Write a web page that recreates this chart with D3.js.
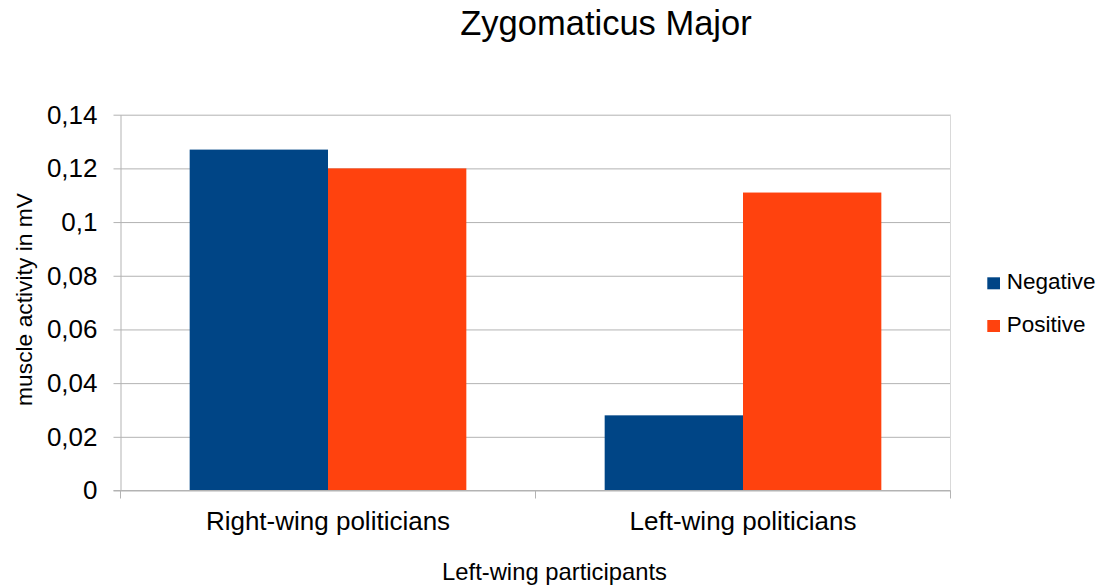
<!DOCTYPE html>
<html>
<head>
<meta charset="utf-8">
<script src="https://cdn.jsdelivr.net/npm/d3@7"></script>
<style>
  html, body { margin: 0; padding: 0; background: #fff; }
  svg { display: block; font-family: "Liberation Sans", Arial, sans-serif; }
</style>
</head>
<body>
<svg id="chart" width="1110" height="586"></svg>
<script>
const categories = ["Right-wing politicians", "Left-wing politicians"];
const seriesNames = ["Negative", "Positive"];
const negativeValues = [0.127, 0.028];
const positiveValues = [0.120, 0.111];
const yTickValues = [0, 0.02, 0.04, 0.06, 0.08, 0.1, 0.12, 0.14];
const yTickLabels = ["0", "0,02", "0,04", "0,06", "0,08", "0,1", "0,12", "0,14"];
const colors = ["#004586", "#ff420e"];
const titleText = "Zygomaticus Major";
const xTitleText = "Left-wing participants";
const yTitleText = "muscle activity in mV";

const svg = d3.select("#chart");
const plot = { left: 120.5, right: 950.5, top: 114.7, bottom: 490.5 };
const grid = "#b3b3b3";

const x0 = d3.scaleBand().domain(categories).range([plot.left, plot.right]).paddingInner(0).paddingOuter(0);
const x1 = d3.scaleBand().domain(seriesNames).range([0, x0.bandwidth()]).paddingInner(0).paddingOuter(0.5);
const y = d3.scaleLinear().domain([0, 0.14]).range([plot.bottom, plot.top]);

const seriesData = [negativeValues, positiveValues];

// Y axis with gridlines
const yAxis = d3.axisLeft(y)
  .tickValues(yTickValues)
  .tickFormat((d, i) => yTickLabels[i])
  .tickSizeInner(-(plot.right - plot.left))
  .tickSizeOuter(0)
  .tickPadding(23);
const gy = svg.append("g").attr("transform", `translate(${plot.left},0)`).call(yAxis);
gy.select(".domain").attr("stroke", grid);
gy.selectAll(".tick line").attr("stroke", grid).attr("x1", -7);
gy.selectAll(".tick text").attr("fill", "#000").style("font-size", "26px")
  .attr("font-family", "Liberation Sans, Arial, sans-serif");

// right border
svg.append("line").attr("x1", plot.right).attr("x2", plot.right)
  .attr("y1", plot.top).attr("y2", plot.bottom).attr("stroke", "#d9d9d9");

// Bars
const groups = svg.append("g").selectAll("g").data(categories).join("g")
  .attr("transform", d => `translate(${x0(d)},0)`);
groups.selectAll("rect")
  .data((c, ci) => seriesNames.map((s, si) => ({ s, v: seriesData[si][ci], si })))
  .join("rect")
  .attr("x", d => x1(d.s))
  .attr("width", x1.bandwidth())
  .attr("y", d => y(d.v))
  .attr("height", d => y(0) - y(d.v))
  .attr("fill", d => colors[d.si]);

// X axis line (bottom)
svg.append("line").attr("x1", plot.left - 7).attr("x2", plot.right)
  .attr("y1", plot.bottom).attr("y2", plot.bottom).attr("stroke", grid);

// X boundary ticks
const boundaries = categories.map(c => x0(c)).concat([x0(categories[categories.length - 1]) + x0.bandwidth()]);
svg.append("g").selectAll("line").data(boundaries).join("line")
  .attr("x1", d => d).attr("x2", d => d)
  .attr("y1", plot.bottom).attr("y2", plot.bottom + 8)
  .attr("stroke", grid);

// X labels
const xAxis = d3.axisBottom(x0).tickSize(0).tickPadding(0);
const gx = svg.append("g").attr("transform", `translate(0,${plot.bottom})`).call(xAxis);
gx.select(".domain").remove();
gx.selectAll(".tick text").attr("fill", "#000").style("font-size", "26px")
  .attr("dy", null).attr("y", 39.5)
  .attr("font-family", "Liberation Sans, Arial, sans-serif");

// Title
svg.append("text").attr("x", 606).attr("y", 35).attr("text-anchor", "middle")
  .style("font-size", "34.5px").attr("fill", "#000").text(titleText);

// X title
svg.append("text").attr("x", 554.5).attr("y", 580).attr("text-anchor", "middle")
  .style("font-size", "23.8px").attr("fill", "#000").text(xTitleText);

// Y title
svg.append("text").attr("transform", "translate(32,299.5) rotate(-90)")
  .attr("text-anchor", "middle").style("font-size", "22.8px").attr("fill", "#000").text(yTitleText);

// Legend
const legend = svg.append("g").selectAll("g").data(seriesNames).join("g")
  .attr("transform", (d, i) => `translate(987.3,${277.3 + i * 42.7})`);
legend.append("rect").attr("width", 12.7).attr("height", 12).attr("fill", (d, i) => colors[i]);
legend.append("text").attr("x", 19.4).attr("y", 12).style("font-size", "22.5px")
  .attr("fill", "#000").text(d => d);
</script>
</body>
</html>
